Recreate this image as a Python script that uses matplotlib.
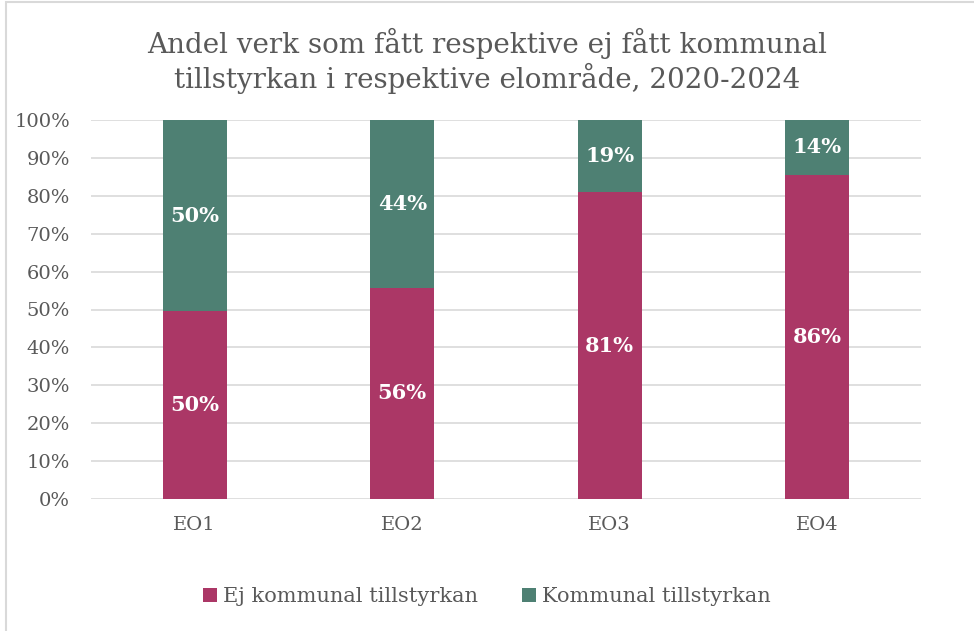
import matplotlib.pyplot as plt
from matplotlib.patches import Rectangle

# Data
regions = ['EO1', 'EO2', 'EO3', 'EO4']
ej_tillstyrkan = [49.6, 55.7, 81.0, 85.6]
tillstyrkan = [50.4, 44.3, 19.0, 14.4]

red = '#AB3766'
green = '#4E8073'
textgray = '#595959'

plt.rcParams['font.family'] = ['DejaVu Serif']

fig = plt.figure(figsize=(9.74, 6.31), dpi=100)
ax = fig.add_axes([91 / 974, 1 - 499 / 631, 830 / 974, 379 / 631])

x = range(len(regions))
b1 = ax.bar(x, ej_tillstyrkan, width=0.31, color=red, label='Ej kommunal tillstyrkan', zorder=3)
b2 = ax.bar(x, tillstyrkan, width=0.31, bottom=ej_tillstyrkan, color=green,
            label='Kommunal tillstyrkan', zorder=3)

# Data labels
for i in x:
    ax.text(i, ej_tillstyrkan[i] / 2, f'{ej_tillstyrkan[i]:.0f}%', ha='center', va='center',
            color='white', fontsize=15, fontweight='bold', zorder=4)
    ax.text(i, ej_tillstyrkan[i] + tillstyrkan[i] / 2, f'{tillstyrkan[i]:.0f}%', ha='center',
            va='center', color='white', fontsize=15, fontweight='bold', zorder=4)

ax.set_xlim(-0.5, 3.5)
ax.set_ylim(0, 100)
ax.set_yticks(range(0, 101, 10))
ax.set_yticklabels([f'{v}%' for v in range(0, 101, 10)])
ax.set_xticks(list(x))
ax.set_xticklabels(regions)
ax.tick_params(axis='both', length=0, labelsize=14, labelcolor=textgray)
ax.tick_params(axis='y', pad=15)
ax.tick_params(axis='x', pad=12)
ax.grid(axis='y', color='#D9D9D9', linewidth=1.2, zorder=0)
for s in ax.spines.values():
    s.set_visible(False)

fig.text(0.5, 1 - 61 / 631, 'Andel verk som fått respektive ej fått kommunal\ntillstyrkan i respektive elområde, 2020-2024',
         ha='center', va='center', fontsize=20, color=textgray, linespacing=1.15)

fig.legend(loc='center', bbox_to_anchor=(0.5, 1 - 597 / 631), ncol=2, frameon=False,
           fontsize=15, labelcolor=textgray, handlelength=0.65, handleheight=0.65,
           handletextpad=0.3, columnspacing=2.1)

# Chart border
fig.patches.append(Rectangle((6 / 974, -0.1), 1.1, 1 - 2 / 631 + 0.1, transform=fig.transFigure,
                             fill=False, edgecolor='#D9D9D9', linewidth=1.5))

fig.savefig('out.png', dpi=100)
